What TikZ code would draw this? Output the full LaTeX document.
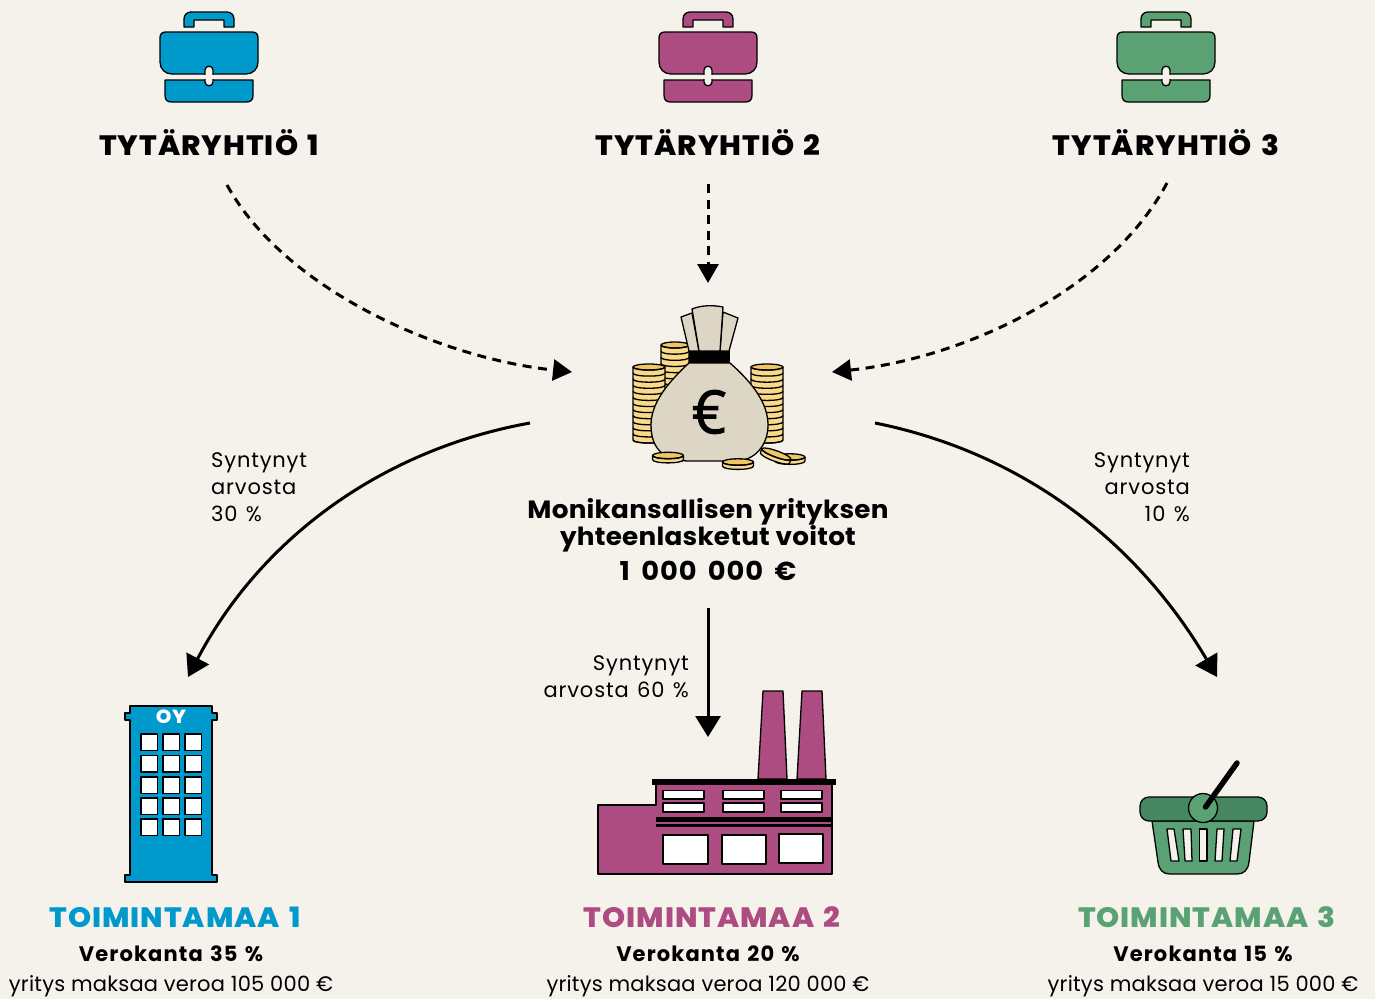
\documentclass[tikz,border=0pt]{standalone}
\usepackage{fontspec}
\setmainfont{Poppins}
\newfontfamily\titlefont[LetterSpace=3.5,FakeStretch=1.05,WordSpace=1.4,BoldFont={Poppins ExtraBold}]{Poppins}
\newfontfamily\headfont[LetterSpace=1,FakeStretch=1.05]{Poppins}
\newfontfamily\amtfont[LetterSpace=3.5,FakeStretch=1.05,WordSpace=1.7]{Poppins}
\newfontfamily\notefont[LetterSpace=4,WordSpace=1.3]{Poppins}
\newfontfamily\taxfont[LetterSpace=1]{Poppins}
\newfontfamily\ratefont[LetterSpace=5.4,WordSpace=1.3]{Poppins}
\newfontfamily\eurofont[FakeBold=1.2]{Open Sans}
\usetikzlibrary{arrows.meta}
\definecolor{bg}{HTML}{F5F2EC}
\definecolor{cblue}{HTML}{0099CC}
\definecolor{cpurple}{HTML}{AC4C80}
\definecolor{cgreen}{HTML}{5AA274}
\definecolor{cdgreen}{HTML}{468661}
\definecolor{sack}{HTML}{DDD6C5}
\definecolor{coinf}{HTML}{F9D98A}
\definecolor{coint}{HTML}{EDC766}
\tikzset{
  ink/.style={draw=black,line width=1.3pt,line join=round},
  company/.style={font=\titlefont\bfseries\fontsize{28}{30}\selectfont,text=black,inner sep=0pt,anchor=base},
  country/.style={font=\titlefont\bfseries\fontsize{28}{30}\selectfont,inner sep=0pt,anchor=base},
  rate/.style={font=\ratefont\fontsize{21}{24}\selectfont\bfseries,inner sep=0pt,anchor=base},
  tax/.style={font=\taxfont\fontsize{21}{24}\selectfont,inner sep=0pt,anchor=base},
  note/.style={font=\notefont\fontsize{21}{27}\selectfont,inner sep=0pt},
  flowd/.style={-{Triangle[length=19pt,width=21pt]},line width=3pt,dash pattern=on 9pt off 6.5pt},
  flows/.style={-{Triangle[length=21pt,width=25pt]},line width=3pt},
}
\newcommand{\briefcase}[2]{%
\begin{scope}[shift={(#1,0)}]
  \path[ink,fill=#2] (-25,27) -- (-25,19) .. controls (-25,15) and (-22,12) .. (-18,12) -- (18,12) .. controls (22,12) and (25,15) .. (25,19) -- (25,27) -- (15,27) -- (15,20) -- (-15,20) -- (-15,27) -- cycle;
  \path[ink,fill=#2] (-49,38) .. controls (-49,34) and (-47,32) .. (-43,32) -- (43,32) .. controls (47,32) and (49,34) .. (49,38) -- (49,62) .. controls (49,69) and (44,74) .. (37,74) -- (-37,74) .. controls (-44,74) and (-49,69) .. (-49,62) -- cycle;
  \path[ink,fill=#2] (-44,80) -- (44,80) -- (44,95) .. controls (44,100) and (42,102) .. (37,102) -- (-37,102) .. controls (-42,102) and (-44,100) .. (-44,95) -- cycle;
  \path[ink,fill=bg] (-4,70) .. controls (-4,65) and (4,65) .. (4,70) -- (4,82) .. controls (4,87) and (-4,87) .. (-4,82) -- cycle;
  \fill[bg] (-6,74.7) rectangle (6,79.4);
\end{scope}}
\newcommand{\coin}[4]{% cx cy w rot
\begin{scope}[shift={(#1,#2)},rotate=#4]
  \path[ink,fill=coinf] (-#3/2,-1) -- (-#3/2,3) .. controls (-#3/2,7.5) and (#3/2,7.5) .. (#3/2,3) -- (#3/2,-1) -- cycle;
  \path[ink,fill=coint] (0,-1) ellipse[x radius=#3/2,y radius=3.2];
  \draw[black,line width=1.3pt] (-#3/2,-1) .. controls (-#3/2,3.2) and (#3/2,3.2) .. (#3/2,-1);
\end{scope}}
\newcommand{\stack}[5]{% left right top bottom n
\pgfmathsetmacro{\mx}{(#1+#2)/2}
\pgfmathsetmacro{\sw}{(#2-#1)/2}
\pgfmathsetmacro{\stp}{(#4-#3-6)/#5}
\path[ink,fill=coinf] (#1,#3+3) -- (#1,#4-3) .. controls (#1,#4+1) and (#2,#4+1) .. (#2,#4-3) -- (#2,#3+3) -- cycle;
\path[ink,fill=coint] (\mx,#3+3) ellipse[x radius=\sw,y radius=3];
\foreach \i in {0,...,#5}{
  \draw[black,line width=1.3pt] (#1,#3+3+\i*\stp) .. controls (#1,#3+7+\i*\stp) and (#2,#3+7+\i*\stp) .. (#2,#3+3+\i*\stp);
}
}
\begin{document}
\begin{tikzpicture}[x=1pt,y=-1pt]
\useasboundingbox (0,0) rectangle (1375,999);
\fill[bg] (0,0) rectangle (1375,999);

% briefcases
\briefcase{209}{cblue}
\briefcase{708}{cpurple}
\briefcase{1166}{cgreen}

\node[company] (t1) at (209,155) {TYTÄRYHTIÖ 1};
\node[company] (t2) at (708,155) {TYTÄRYHTIÖ 2};
\node[company] (t3) at (1166,155) {TYTÄRYHTIÖ 3};

% money bag
\stack{661}{689}{342}{385}{6}
\stack{633}{665}{364}{443}{12}
\stack{751}{783}{364}{443}{12}
\path[ink,fill=sack] (681,317) -- (692,313) -- (699,351) -- (689,351) -- cycle;
\path[ink,fill=sack] (723,312) -- (738,318) -- (729,351) -- (720,351) -- cycle;
\path[ink,fill=sack] (692,309) .. controls (702,305) and (713,305) .. (723,307) -- (720,351) -- (699,351) -- cycle;
\path[ink,fill=sack] (689,363) .. controls (665,385) and (651,405) .. (651,425) .. controls (651,450) and (665,461) .. (690,461) -- (735,461) .. controls (755,461) and (768,445) .. (768,425) .. controls (768,405) and (755,385) .. (730,363) -- cycle;
\fill[black] (689,351) rectangle (730,363);
\node[inner sep=0pt,font=\eurofont\fontsize{60}{60}\selectfont] (euro) at (709,412) {€};
\coin{668}{456.5}{31}{0}
\coin{738}{463}{31}{0}
\coin{790}{458}{30}{0}
\coin{776}{455}{31}{-20}

\node[align=center,inner sep=0pt,anchor=base,font=\headfont\bfseries\fontsize{25}{27}\selectfont] (sum) at (708,545.5) {Monikansallisen yrityksen\\yhteenlasketut voitot};
\node[inner sep=0pt,anchor=base,font=\amtfont\bfseries\fontsize{26}{27}\selectfont] (amt) at (708,580) {1 000 000 €};

% arrows
\coordinate (a1s) at (227,185); \coordinate (a1e) at (572,372);
\coordinate (a2s) at (708,184); \coordinate (a2e) at (708,283);
\coordinate (a3s) at (1167,183); \coordinate (a3e) at (832,372);
\coordinate (b1s) at (530,423); \coordinate (b1e) at (188,677);
\coordinate (b2s) at (708,608); \coordinate (b2e) at (708,737);
\coordinate (b3s) at (875,423); \coordinate (b3e) at (1217,677);
\draw[flowd] (a1s) .. controls (285,290) and (440,358) .. (a1e);
\draw[flowd] (a2s) -- (a2e);
\draw[flowd] (a3s) .. controls (1110,290) and (965,358) .. (a3e);
\draw[flows] (b1s) .. controls (380,450) and (260,540) .. (b1e);
\draw[flows] (b2s) -- (b2e);
\draw[flows] (b3s) .. controls (1010,450) and (1130,530) .. (b3e);

\node[note,align=left,anchor=north west] (n1) at (211,452) {Syntynyt\\arvosta\\30 \%};
\node[note,align=right,anchor=north east] (n3) at (1190,452) {Syntynyt\\arvosta\\10 \%};
\node[note,align=right,anchor=north east] (n2) at (689,655) {Syntynyt\\arvosta 60 \%};

% building
\path[ink,fill=cblue] (130,706) -- (212,706) -- (212,713) -- (217,713) -- (217,720) -- (212,720) -- (212,875) -- (217,875) -- (217,882) -- (125,882) -- (125,875) -- (130,875) -- (130,720) -- (125,720) -- (125,713) -- (130,713) -- cycle;
\foreach \yy in {734,755.5,777,798,819}
  \foreach \xx in {141,163,185}
    \path[ink,fill=white] (\xx,\yy) rectangle ++(16.5,16.5);
\node[inner sep=0pt,text=white,font=\titlefont\bfseries\fontsize{19}{19}\selectfont] (oy) at (171,717) {OY};

% factory
\path[ink,fill=cpurple] (758,779) -- (763,691) -- (783,691) -- (787,779) -- cycle;
\path[ink,fill=cpurple] (797,779) -- (802,691) -- (822,691) -- (826,779) -- cycle;
\path[ink,fill=cpurple] (598,805) -- (656,805) -- (656,784) -- (832,784) -- (832,874) -- (598,874) -- cycle;
\fill[black] (652,779) rectangle (836,785);
\foreach \xa/\xb in {663/704,723/764,781/822}{
  \path[ink,fill=white] (\xa,790.5) rectangle (\xb,799);
  \path[ink,fill=white] (\xa,803) rectangle (\xb,812);
}
\fill[black] (656,817) rectangle (831,822);
\fill[black] (656,824) rectangle (831,827);
\path[ink,fill=white] (663,835) rectangle (708,864);
\path[ink,fill=white] (722,835) rectangle (766,864);
\path[ink,fill=white] (779,834) rectangle (823,863);

% basket
\path[ink,fill=cgreen] (1152,821) -- (1254,821) -- (1249,862) .. controls (1248,870) and (1244,874) .. (1237,874) -- (1170,874) .. controls (1163,874) and (1159,870) .. (1158,862) -- cycle;
\path[ink,fill=cdgreen,rounded corners=9pt] (1140,797) -- (1267,797) -- (1267,821) -- (1140,821) -- cycle;
\path[ink,fill=bg] (1167,829) -- (1174,829) -- (1179,861) -- (1171,861) -- cycle;
\path[ink,fill=bg] (1183,829) -- (1191,829) -- (1192,861) -- (1185,861) -- cycle;
\path[ink,fill=bg] (1199.5,829) -- (1207,829) -- (1207,861) -- (1199.5,861) -- cycle;
\path[ink,fill=bg] (1217,829) -- (1224,829) -- (1222,861) -- (1215,861) -- cycle;
\path[ink,fill=bg] (1233,829) -- (1241,829) -- (1237,861) -- (1230,861) -- cycle;
\path[ink,fill=cgreen] (1203,808) circle[radius=14.5];
\draw[black,line width=5.5pt,line cap=round] (1205.5,807) -- (1237,763);

% bottom
\node[country,text=cblue] (c1) at (175,927) {TOIMINTAMAA 1};
\node[country,text=cpurple] (c2) at (712,927) {TOIMINTAMAA 2};
\node[country,text=cgreen] (c3) at (1207,927) {TOIMINTAMAA 3};
\node[rate] (r1) at (171,961) {Verokanta 35 \%};
\node[rate] (r2) at (708,961) {Verokanta 20 \%};
\node[rate] (r3) at (1203,961) {Verokanta 15 \%};
\node[tax] (x1) at (171,991) {yritys maksaa veroa 105 000 €};
\node[tax] (x2) at (708,991) {yritys maksaa veroa 120 000 €};
\node[tax] (x3) at (1203,991) {yritys maksaa veroa 15 000 €};
\end{tikzpicture}
\end{document}
